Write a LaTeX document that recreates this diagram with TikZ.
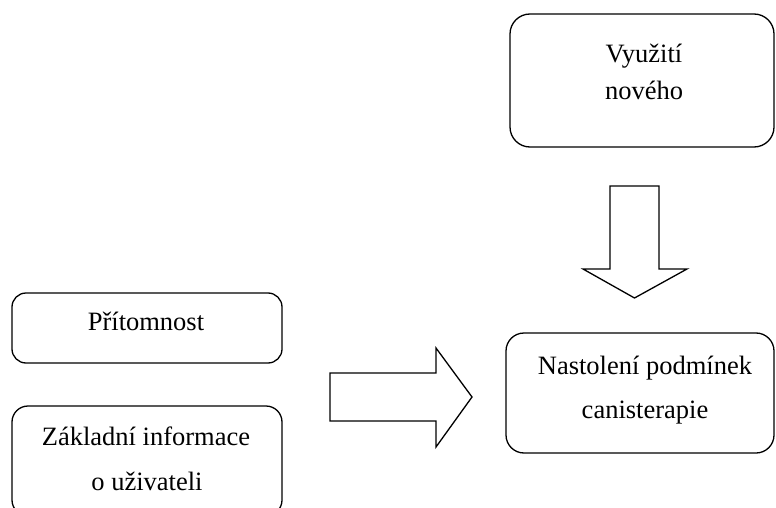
\documentclass[tikz,border=0pt]{standalone}
\usepackage{fontspec}
\setmainfont{Liberation Serif}
\begin{document}
\begin{tikzpicture}[x=1pt,y=-1pt,
  line width=1.3pt, line join=miter,
  roundbox/.style={draw=black, rounded corners=#1, inner sep=0pt},
  txt/.style={anchor=base, inner sep=0pt, font=\fontsize{26.5}{30}\selectfont},
  blockarrow/.style={draw=black, fill=white, line join=miter}]
  \useasboundingbox (0,0) rectangle (776,508);
  \begin{scope}
    \clip (0,0) rectangle (776,508);
    % boxes
    \node[roundbox=20pt, minimum width=264pt, minimum height=133pt] (vyuziti) at (642,80.5) {};
    \node[roundbox=14pt, minimum width=270pt, minimum height=70pt] (pritomnost) at (147,328) {};
    \node[roundbox=16pt, minimum width=270pt, minimum height=110pt] (zakladni) at (147,461) {};
    \node[roundbox=18pt, minimum width=268pt, minimum height=120pt] (nastoleni) at (640,393) {};
    % labels
    \node[txt] (t1) at (644,63) {Využití};
    \node[txt] (t2) at (644,100) {nového};
    \node[txt] (t3) at (146,330) {Přítomnost};
    \node[txt] (t4) at (146,445) {Základní informace};
    \node[txt] (t5) at (147,490) {o uživateli};
    \node[txt] (t6) at (645,374) {Nastolení podmínek};
    \node[txt] (t7) at (645,418) {canisterapie};
  \end{scope}
  % hollow block arrow: top box down to the conditions box
  \draw[blockarrow] (610,186) -- (659,186) -- (659,269) -- (687,269) -- (634.5,298)
    -- (583,269) -- (610,269) -- cycle;
  % hollow block arrow: left boxes to the conditions box
  \draw[blockarrow] (330,373) -- (436,373) -- (436,348) -- (472,397) -- (436,447)
    -- (436,421) -- (330,421) -- cycle;
\end{tikzpicture}
\end{document}
